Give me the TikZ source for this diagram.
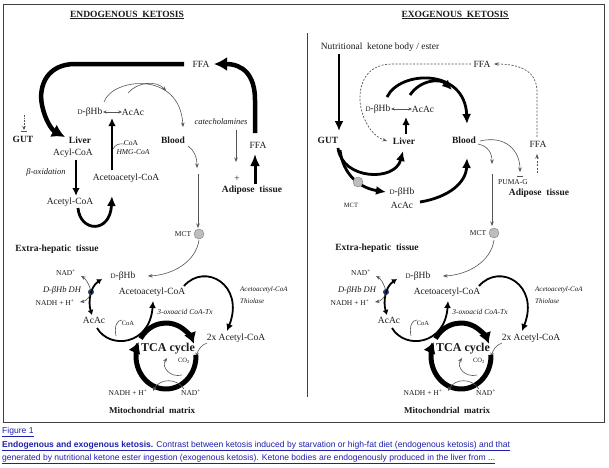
\documentclass[tikz,border=0pt]{standalone}
\usepackage{fontspec}
\setmainfont{Liberation Serif}
\newfontfamily\capfont{Liberation Sans}
\usetikzlibrary{arrows.meta}
\definecolor{txtc}{HTML}{1A1A1A}
\definecolor{thinc}{HTML}{555555}
\definecolor{capblue}{HTML}{1F1FB0}
\definecolor{framec}{HTML}{404040}
\definecolor{mctgray}{HTML}{BDBDBD}
\definecolor{dotblue}{HTML}{1B3F7A}
\newcommand\fs[1]{\fontsize{#1}{#1}\selectfont}
\newcommand\smD{{\fs{7}D}}
\tikzset{
  every node/.style={inner sep=0pt, text=txtc},
  lab/.style={font=\fs{9.5}},
  blab/.style={font=\fs{9.5}\bfseries},
  ilab/.style={font=\fs{8.5}\itshape},
  slab/.style={font=\fs{7.5}},
  tlab/.style={font=\fs{7}\itshape, anchor=west},
  thinline/.style={draw=thinc, line width=0.6pt},
  thinarr/.style={draw=thinc, line width=0.6pt, -{Stealth[length=4.5pt,width=3.5pt]}},
  dblarr/.style={draw=thinc, line width=0.6pt, {Stealth[length=3.5pt,width=3pt]}-{Stealth[length=3.5pt,width=3pt]}},
  dasharr/.style={draw=thinc, line width=0.7pt, dash pattern=on 2pt off 1.5pt, -{Stealth[length=4.5pt,width=3.5pt]}},
  arcarr/.style={draw=black, line width=1.8pt, -{Latex[length=7pt,width=7pt]}},
  medarr/.style={draw=black, line width=2.4pt, -{Latex[length=8pt,width=7.5pt]}},
  thickarr/.style={draw=black, line width=2.8pt, -{Latex[length=10pt,width=9pt]}},
  hugearr/.style={draw=black, line width=4.5pt, -{Latex[length=13pt,width=14pt]}},
  tcaarr/.style={draw=black, line width=5pt, -{Latex[length=11pt,width=13pt]}},
  mctdot/.style={circle, draw=gray, fill=mctgray, minimum width=10pt, minimum height=9pt, line width=0.4pt},
  caplab/.style={anchor=west, font=\capfont\fs{8.55}, text=capblue},
}
\newcommand\lowerpart[1]{%
  \node[lab] (#1db) at (123,276) {\smD-βHb};
  \node[slab] (#1nad) at (66,273) {NAD\textsuperscript{+}};
  \node[ilab] (#1dh) at (62,290) {D-βHb DH};
  \node[slab] (#1nadh) at (55,303) {NADH + H\textsuperscript{+}};
  \node[circle, fill=dotblue, minimum size=6pt] (#1dot) at (91,292) {};
  \node[lab] (#1acac) at (94,320) {AcAc};
  \node[lab] (#1aacoa) at (152,292) {Acetoacetyl-CoA};
  \node[font=\fs{7.5}\itshape] (#1oxo) at (185,312) {3-oxoacid CoA-Tx};
  \node[tlab] (#1thioa) at (240,290) {Acetoacetyl-CoA};
  \node[tlab] (#1thiob) at (240,301) {Thiolase};
  \node[lab] (#1acet) at (236,338) {2x Acetyl-CoA};
  \node[font=\fs{12}\bfseries] (#1tca) at (168,349) {TCA cycle};
  \node[font=\fs{6.5}] (#1co) at (184,361) {CO\textsubscript{2}};
  \node[slab] (#1nadhb) at (128,393) {NADH + H\textsuperscript{+}};
  \node[slab] (#1nadb) at (191,393) {NAD\textsuperscript{+}};
  \node[font=\fs{9}\bfseries] (#1mito) at (152,410) {Mitochondrial\ \ matrix};
  \node[font=\fs{6.5}] (#1coa) at (128,323) {CoA};
  \draw[thinarr] (199,240) .. controls (196,262) and (172,275) .. (148,276);
  \draw[draw=black, line width=1.8pt, {Latex[length=5pt,width=6pt]}-{Latex[length=5pt,width=6pt]}] (92,315) .. controls (88,302) and (90,287) .. (102,279);
  \draw[thinarr] (91,291) .. controls (89,284) and (86,279) .. (81,276);
  \draw[thinarr] (91,293) .. controls (89,298) and (86,301) .. (80,302);
  \draw[arcarr] (97,328) .. controls (110,350) and (150,345) .. (153,301);
  \draw[thinline] (122,320) .. controls (117,320) and (114,326) .. (116,336);
  \draw[arcarr] (184,286) .. controls (205,262) and (245,285) .. (227,331);
  \draw[thinarr] (207,343) .. controls (201,345) and (198,350) .. (196,357);
  \draw[tcaarr] (166,356) ++(-2:30 and 33) arc[start angle=-2, end angle=205, x radius=30, y radius=33];
  \draw[tcaarr] (166,356) ++(212:30 and 33) arc[start angle=212, end angle=338, x radius=30, y radius=33];
  \draw[thinarr] (182,375) .. controls (170,378) and (161,367) .. (167,358);
  \draw[thinarr] (184,389) .. controls (177,378) and (160,378) .. (153,391);
}
\begin{document}
\begin{tikzpicture}[x=1pt,y=-1pt]
\useasboundingbox (0,0) rectangle (609,467);
\fill[white] (0,0) rectangle (609,467);
\draw[framec, line width=0.8pt] (3,4) rectangle (604,422);
\draw[framec, line width=0.8pt] (307,33) -- (307,397);

% ---------- left panel ----------
\node[font=\fs{9.5}\bfseries] (t1) at (127,15) {\underline{ENDOGENOUS\ \ KETOSIS}};
\node[lab] (ffa1) at (201,64) {FFA};
\node[blab] (gut1) at (23,139) {GUT};
\node[blab] (liver1) at (80,140) {Liver};
\node[lab] (acyl1) at (73,153) {Acyl-CoA};
\node[ilab] (boxi1) at (46,172) {β-oxidation};
\node[lab] (acetyl1) at (70,202) {Acetyl-CoA};
\node[lab] (aacoa1) at (126,178) {Acetoacetyl-CoA};
\node[slab] (coa1) at (131,143) {CoA};
\node[font=\fs{7.5}\itshape] (hmg1) at (133,152) {HMG-CoA};
\node[lab] (db1) at (90,112) {\smD-βHb};
\node[lab] (acac1) at (133,112) {AcAc};
\node[blab] (blood1) at (173,140) {Blood};
\node[ilab] (cat1) at (221,122) {catecholamines};
\node[lab] (ffa2) at (258,145) {FFA};
\node[lab] (plus1) at (237,179) {+};
\node[blab] (adip1) at (252,190) {Adipose\ \ tissue};
\node[font=\fs{7.5}] (mctl1) at (183,234) {MCT};
\node[mctdot] (mct1) at (199,234) {};
\node[blab] (extra1) at (57,249) {Extra-hepatic\ \ tissue};

\draw[hugearr] (184,64) -- (75,64) .. controls (48,64) and (38,85) .. (42,105) .. controls (45,120) and (52,130) .. (65,137);
\draw[hugearr] (255,133) -- (255,100) .. controls (255,75) and (243,64) .. (214,64);
\draw[thinc, line width=0.7pt, dash pattern=on 1.5pt off 1.2pt, -{Stealth[length=4pt,width=3.5pt]}] (24,115) -- (24,130);
\draw[thinc, line width=0.7pt] (21,131) -- (27,131);
\draw[medarr] (76,160) -- (76,196);
\draw[thickarr] (78,208) .. controls (80,232) and (110,234) .. (112,196);
\draw[medarr] (112,170) -- (112,118);
\draw[thinline] (113,149) .. controls (115,145) and (119,143) .. (124,144);
\draw[dblarr] (103,112) -- (122,112);
\draw[thinarr] (104,102) .. controls (112,78) and (180,70) .. (183,127);
\draw[thinarr] (128,93) .. controls (137,82) and (157,80) .. (166,91);
\draw[thinarr] (188,146) .. controls (194,150) and (197,157) .. (197,168);
\draw[thinarr] (198,174) -- (198,228);
\draw[thinarr] (236,130) -- (236,162);
\draw[draw=black, line width=3pt, -{Latex[length=12pt,width=10pt]}] (255,184) -- (255,154);

\begin{scope}
\lowerpart{l}
\end{scope}

% ---------- right panel ----------
\node[font=\fs{9.5}\bfseries] (t2) at (455,15) {\underline{EXOGENOUS\ \ KETOSIS}};
\node[lab] (nut) at (380,47) {Nutritional\ \ ketone body / ester};
\node[blab] (gut2) at (328,140) {GUT};
\node[lab] (ffa3) at (482,64) {FFA};
\node[lab] (db2) at (378,109) {\smD-βHb};
\node[lab] (acac2) at (423,109) {AcAc};
\node[blab] (liver2) at (404,141) {Liver};
\node[blab] (blood2) at (464,140) {Blood};
\node[lab] (ffa4) at (538,144) {FFA};
\node[lab] (db3) at (402,192) {\smD-βHb};
\node[lab] (acac3) at (402,205) {AcAc};
\node[font=\fs{6.5}] (mctl2) at (351,205) {MCT};
\node[font=\fs{7.5}] (puma) at (513,182) {PUMA-G};
\node[blab] (adip2) at (539,193) {Adipose\ \ tissue};
\node[font=\fs{7.5}] (mctl3) at (478,233) {MCT};
\node[mctdot] (mct3) at (494,233) {};
\node[blab] (extra2) at (377,248) {Extra-hepatic\ \ tissue};

\draw[thickarr] (339,54) -- (339,131);
\draw[dasharr] (537,137) -- (537,92) .. controls (537,72) and (522,64) .. (494,64);
\draw[dasharr] (471,64) -- (392,64) .. controls (362,64) and (356,92) .. (362,112) .. controls (367,128) and (375,137) .. (387,141);
\draw[dblarr] (391,109) -- (412,109);
\draw[medarr] (406,134) -- (406,117);
\draw[thickarr] (387,97) .. controls (400,70) and (465,68) .. (467,124);
\draw[thickarr] (410,95) .. controls (420,80) and (440,78) .. (452,90);
\draw[thickarr] (338,148) .. controls (342,180) and (395,182) .. (403,151);
\draw[thickarr] (340,150) .. controls (343,175) and (360,188) .. (386,192);
\node[mctdot] (mct2) at (358,182) {};
\draw[thickarr] (420,202) .. controls (450,197) and (466,182) .. (467,158);
\draw[thinarr] (478,144) .. controls (488,146) and (492,153) .. (492,164);
\draw[thinarr] (492,174) -- (492,226);
\draw[thinarr] (480,141) .. controls (505,135) and (520,150) .. (520,172);
\draw[thinline] (517,176) -- (523,176);
\draw[dasharr] (537,173) -- (537,154);

\begin{scope}[xshift=295pt]
\lowerpart{r}
\end{scope}

% ---------- caption ----------
\node[caplab] (fig) at (2,432) {\underline{Figure 1}};
\node[caplab] (cap1) at (2,446) {\underline{\textbf{Endogenous and exogenous ketosis.} Contrast between ketosis induced by starvation or high-fat diet (endogenous ketosis) and that}};
\node[caplab] (cap2) at (2,459) {\underline{generated by nutritional ketone ester ingestion (exogenous ketosis). Ketone bodies are endogenously produced in the liver from ...}};
\end{tikzpicture}
\end{document}
